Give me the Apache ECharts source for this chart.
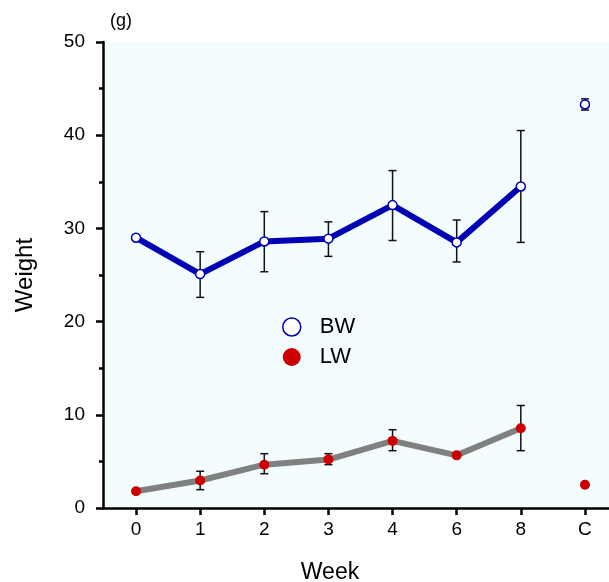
<!DOCTYPE html>
<html>
<head>
<meta charset="utf-8">
<script src="https://cdn.jsdelivr.net/npm/echarts@6/dist/echarts.min.js"></script>
<style>
    html, body { margin: 0; padding: 0; background: #fff; }
    #chart { width: 609px; height: 582px; }
</style>
</head>
<body>
<div id="chart"></div>
<script>
// 周次（C 为对照组，单独画，不连线）
const weeks = ['0', '1', '2', '3', '4', '6', '8', 'C'];
const yTicks = [0, 10, 20, 30, 40, 50];

// BW: 体重
const bwMean = [29.0, 25.1, 28.6, 28.9, 32.5, 28.5, 34.5, 43.3];
const bwLow = [29.0, 22.6, 25.35, 27.0, 28.7, 26.4, 28.5, 42.7];
const bwHigh = [29.0, 27.5, 31.8, 30.7, 36.2, 30.9, 40.5, 43.9];

// LW: 肝重
const lwMean = [1.8, 2.95, 4.65, 5.2, 7.2, 5.65, 8.55, 2.5];
const lwLow = [1.8, 1.97, 3.68, 4.65, 6.15, 5.65, 6.15, 2.5];
const lwHigh = [1.8, 3.94, 5.83, 5.83, 8.4, 5.65, 11.0, 2.5];

const blue = '#0000b4';
const red = '#cc0000';
const gray = '#808080';
const font = 'Liberation Sans, Arial, sans-serif';

const lastIdx = weeks.length - 1;
const idx = weeks.map((w, i) => i);
const pts = (arr) => arr.slice(0, lastIdx).map((v, i) => [i, v]);
const bars = (lo, hi) => lo.map((v, i) => [i, v, hi[i]]).filter(d => d[2] - d[1] > 0.05);

function errorBar(params, api) {
    const x = api.value(0);
    const lo = api.coord([x, api.value(1)]);
    const hi = api.coord([x, api.value(2)]);
    const cap = 4;
    const style = { stroke: '#111', lineWidth: 1.5 };
    return {
        type: 'group',
        children: [
            { type: 'line', shape: { x1: lo[0], y1: lo[1], x2: hi[0], y2: hi[1] }, style },
            { type: 'line', shape: { x1: lo[0] - cap, y1: lo[1], x2: lo[0] + cap, y2: lo[1] }, style },
            { type: 'line', shape: { x1: hi[0] - cap, y1: hi[1], x2: hi[0] + cap, y2: hi[1] }, style }
        ]
    };
}

const myEcharts = echarts.init(document.getElementById('chart'));
const option = {
    animation: false,
    textStyle: { fontFamily: font },
    graphic: [{
        type: 'text',
        left: 110,
        top: 12,
        style: { text: '(g)', fontSize: 18, fill: '#000', fontFamily: font }
    }],
    legend: {
        orient: 'vertical',
        left: 277,
        top: 311,
        itemWidth: 18,
        itemHeight: 18,
        itemGap: 8,
        textStyle: { fontSize: 22, color: '#000', fontFamily: font, padding: [0, 0, 0, 14] },
        data: [
            { name: 'BW', icon: 'circle', itemStyle: { color: '#fff', borderColor: blue, borderWidth: 1.5 } },
            { name: 'LW', icon: 'circle', itemStyle: { color: red, borderWidth: 0 } }
        ]
    },
    grid: {
        left: 103,
        right: 0,
        top: 42,
        bottom: 74,
        outerBoundsMode: 'none',
        show: true,
        backgroundColor: '#f3fdfd',
        borderWidth: 0
    },
    xAxis: {
        type: 'value',
        min: -0.515,
        max: 7.375,
        name: 'Week',
        nameLocation: 'middle',
        nameGap: 53,
        nameTextStyle: { fontSize: 23, color: '#000', fontFamily: font, padding: [0, 52, 0, 0] },
        axisLine: { show: true, onZero: false, lineStyle: { color: '#000', width: 2.5 } },
        axisTick: { show: true, customValues: idx, length: 7, lineStyle: { color: '#000', width: 2.5 } },
        axisLabel: {
            customValues: idx,
            fontSize: 19,
            color: '#000',
            margin: 12,
            formatter: (v) => weeks[Math.round(v)]
        },
        splitLine: { show: false }
    },
    yAxis: {
        type: 'value',
        min: 0,
        max: 50,
        interval: 10,
        name: 'Weight',
        nameLocation: 'middle',
        nameGap: 66,
        nameTextStyle: { fontSize: 24, color: '#000', fontFamily: font },
        axisLine: { show: true, onZero: false, lineStyle: { color: '#000', width: 2.5 } },
        axisTick: { show: true, length: 7, lineStyle: { color: '#000', width: 2.5 } },
        minorTick: { show: true, splitNumber: 2, length: 4, lineStyle: { color: '#000', width: 2.5 } },
        axisLabel: {
            fontSize: 19,
            color: '#000',
            margin: 18,
            customValues: yTicks
        },
        splitLine: { show: false }
    },
    series: [
        {
            name: 'LW',
            type: 'line',
            data: pts(lwMean),
            symbol: 'circle',
            symbolSize: 10,
            lineStyle: { color: gray, width: 6 },
            itemStyle: { color: red },
            z: 3
        },
        {
            name: 'LW',
            type: 'scatter',
            data: [[lastIdx, lwMean[lastIdx]]],
            symbolSize: 10,
            itemStyle: { color: red, opacity: 1 },
            z: 3
        },
        {
            name: 'BW',
            type: 'line',
            data: pts(bwMean),
            symbol: 'circle',
            symbolSize: 9,
            lineStyle: { color: blue, width: 6 },
            itemStyle: { color: '#fff', borderColor: blue, borderWidth: 1.5 },
            z: 3
        },
        {
            name: 'BW',
            type: 'scatter',
            data: [[lastIdx, bwMean[lastIdx]]],
            symbolSize: 9,
            itemStyle: { color: '#fff', borderColor: blue, borderWidth: 1.5, opacity: 1 },
            z: 3
        },
        {
            type: 'custom',
            renderItem: errorBar,
            data: bars(bwLow, bwHigh),
            encode: { x: 0, y: [1, 2] },
            z: 2
        },
        {
            type: 'custom',
            renderItem: errorBar,
            data: bars(lwLow, lwHigh),
            encode: { x: 0, y: [1, 2] },
            z: 2
        }
    ]
};
myEcharts.setOption(option);
</script>
</body>
</html>
